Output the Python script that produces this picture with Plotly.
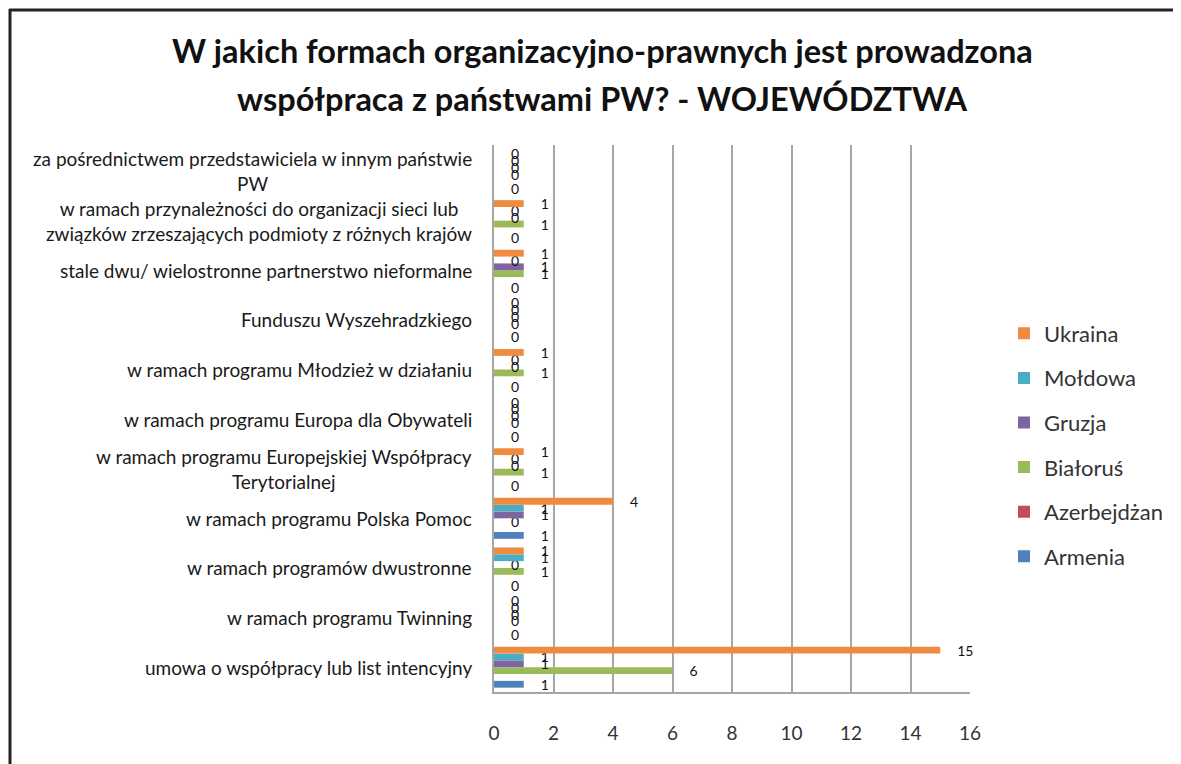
import plotly.graph_objects as go

# Categories in data order (first = bottom of chart)
categories = [
    "umowa o współpracy lub list intencyjny",
    "w ramach programu Twinning",
    "w ramach programów dwustronne",
    "w ramach programu Polska Pomoc",
    "w ramach programu Europejskiej Współpracy<br>Terytorialnej",
    "w ramach programu Europa dla Obywateli",
    "w ramach programu Młodzież w działaniu",
    "Funduszu Wyszehradzkiego",
    "stale dwu/ wielostronne partnerstwo nieformalne",
    "w ramach przynależności do organizacji sieci lub<br>związków zrzeszających podmioty z różnych krajów",
    "za pośrednictwem przedstawiciela w innym państwie<br>PW",
]

armenia     = [1, 0, 0, 1, 0, 0, 0, 0, 0, 0, 0]
azerbejdzan = [0, 0, 0, 0, 0, 0, 0, 0, 0, 0, 0]
bialorus    = [6, 0, 1, 0, 1, 0, 1, 0, 1, 1, 0]
gruzja      = [1, 0, 0, 1, 0, 0, 0, 0, 1, 0, 0]
moldowa     = [1, 0, 1, 1, 0, 0, 0, 0, 0, 0, 0]
ukraina     = [15, 0, 1, 4, 1, 0, 1, 0, 1, 1, 0]

series_names = ["Armenia", "Azerbejdżan", "Białoruś", "Gruzja", "Mołdowa", "Ukraina"]
series_values = [armenia, azerbejdzan, bialorus, gruzja, moldowa, ukraina]
series_colors = ["#4F81BD", "#C0504D", "#9BBB59", "#8064A2", "#4BACC6", "#F08A3E"]
show_labels = [True, False, True, True, True, True]
legend_ranks = [6, 5, 4, 3, 2, 1]

x_ticks = [0, 2, 4, 6, 8, 10, 12, 14, 16]

title_line1 = "W jakich formach organizacyjno-prawnych jest prowadzona"
title_line2 = "współpraca z państwami PW? - WOJEWÓDZTWA"

W, H = 1181, 764
OFF = 8  # page body margin offset
# plot area in reference pixels: x 494..970, y 145..692
L = 494 - OFF
T = 145 - OFF
R = W - (970 - OFF)
B = H - (692 - OFF)
PW_, PH_ = W - L - R, H - T - B

FONT = "Lato"

def px_to_paper_x(px):
    return (px - OFF - L) / PW_

def px_to_paper_y(py):
    return (H - B - (py - OFF)) / PH_

fig = go.Figure()
for name, vals, col, lab, rk in zip(series_names, series_values, series_colors, show_labels, legend_ranks):
    fig.add_trace(go.Bar(
        y=categories, x=vals, name=name, orientation="h",
        marker=dict(color=col, line=dict(width=0)),
        text=[str(v) for v in vals] if lab else None,
        texttemplate="\u2002\u2002%{text}" if lab else None,
        textposition="outside" if lab else "none",
        textfont=dict(family=FONT, size=14, color="#111111"),
        cliponaxis=False, constraintext="none",
        legendgroup=name, legendrank=rk,
    ))

annotations = []
for c in categories:
    annotations.append(dict(
        x=0, xref="paper", xshift=-20, y=c, yref="y",
        text=c, showarrow=False, xanchor="right", yanchor="middle", align="center",
        font=dict(family=FONT, size=19, color="#1a1a1a"),
    ))

annotations.append(dict(
    x=px_to_paper_x(602), y=px_to_paper_y(50), xref="paper", yref="paper",
    text=title_line1, showarrow=False, xanchor="center", yanchor="middle",
    font=dict(family=FONT, size=32.5, color="#111111", weight="bold"),
))
annotations.append(dict(
    x=px_to_paper_x(602), y=px_to_paper_y(98), xref="paper", yref="paper",
    text=title_line2, showarrow=False, xanchor="center", yanchor="middle",
    font=dict(family=FONT, size=32.5, color="#111111", weight="bold"),
))

shapes = [
    dict(type="line", xref="paper", yref="paper",
         x0=px_to_paper_x(10), x1=px_to_paper_x(10),
         y0=px_to_paper_y(9), y1=px_to_paper_y(H + 20),
         line=dict(color="#222222", width=3)),
    dict(type="line", xref="paper", yref="paper",
         x0=px_to_paper_x(9), x1=px_to_paper_x(W + 20),
         y0=px_to_paper_y(10), y1=px_to_paper_y(10),
         line=dict(color="#222222", width=3)),
]

fig.update_layout(
    width=W, height=H,
    margin=dict(l=L, r=R, t=T, b=B, pad=0),
    paper_bgcolor="white", plot_bgcolor="white",
    barmode="group", bargap=0.175, bargroupgap=0,
    showlegend=True,
    legend=dict(
        x=px_to_paper_x(1004), xanchor="left",
        y=px_to_paper_y(445), yanchor="middle",
        traceorder="grouped", tracegroupgap=13,
        font=dict(family=FONT, size=22, color="#333333"),
        bgcolor="rgba(0,0,0,0)",
    ),
    xaxis=dict(
        range=[0, 16], tickvals=x_ticks, ticktext=[str(t) for t in x_ticks],
        showgrid=True, gridcolor="#A6A6A6", gridwidth=1.5,
        showline=True, linecolor="#A6A6A6", linewidth=1.5,
        zeroline=False, ticks="", ticklabelstandoff=23,
        tickfont=dict(family=FONT, size=19, color="#333333"),
        fixedrange=True,
    ),
    yaxis=dict(
        type="category", categoryorder="array", categoryarray=categories,
        showticklabels=False, showgrid=False,
        showline=True, linecolor="#A6A6A6", linewidth=1.5,
        ticks="", fixedrange=True,
    ),
    annotations=annotations,
    shapes=shapes,
)

fig.write_html("out.html")
